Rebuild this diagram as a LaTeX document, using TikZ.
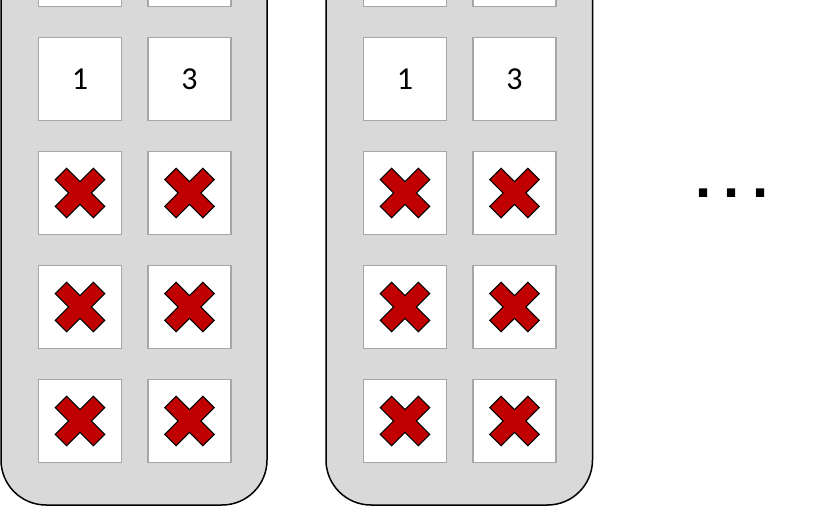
\documentclass[tikz,border=0pt]{standalone}
\usepackage{fontspec}
\setmainfont{Carlito}
\newfontfamily\dotfont{Liberation Sans}
\definecolor{panelgray}{HTML}{D9D9D9}
\definecolor{boxgray}{HTML}{A6A6A6}
\definecolor{xred}{HTML}{C00000}
\tikzset{
  panel/.style={draw=black, line width=1.5pt, fill=panelgray, rounded corners=45pt, inner sep=0pt},
  cell/.style={draw=boxgray, line width=1.3pt, fill=white, minimum size=83pt, inner sep=0pt, font=\fontsize{32}{38}\selectfont},
  xcross/.style={draw=black, line width=1.1pt, fill=xred, line join=miter},
  xmark/.pic={\draw[xcross, rotate=45] (8,8) -- (27,8) -- (27,-8) -- (8,-8) -- (8,-27) -- (-8,-27) -- (-8,-8) -- (-27,-8) -- (-27,8) -- (-8,8) -- (-8,27) -- (8,27) -- cycle;},
}
\begin{document}
\begin{tikzpicture}[x=1pt, y=-1pt]
\useasboundingbox (0,0) rectangle (825,510);
\clip (0,0) rectangle (825,510);
% panels
\node[panel, minimum width=266pt, minimum height=655pt] (PL) at (134,177.5) {};
\node[panel, minimum width=266.5pt, minimum height=655pt] (PR) at (459.25,177.5) {};
% cells
\foreach \p/\px in {L/0, R/325}{
  \foreach \c/\cx in {a/80, b/189.5}{
    \node[cell] (\p\c0) at (\px+\cx,-35) {};
  }
  \node[cell] (\p a1) at (\px+80,79) {1};
  \node[cell] (\p b1) at (\px+189.5,79) {3};
  \foreach \c/\cx in {a/80, b/189.5}{
    \foreach \r/\ry in {2/193, 3/307, 4/421}{
      \node[cell] (\p\c\r) at (\px+\cx,\ry) {};
      \pic at (\p\c\r.center) {xmark};
    }
  }
}
% ellipsis
\node[font=\dotfont\bfseries\fontsize{58}{60}\selectfont, anchor=base, inner sep=0pt] (dots) at (732,198) {.\hspace{12pt}.\hspace{12pt}.};
\end{tikzpicture}
\end{document}
